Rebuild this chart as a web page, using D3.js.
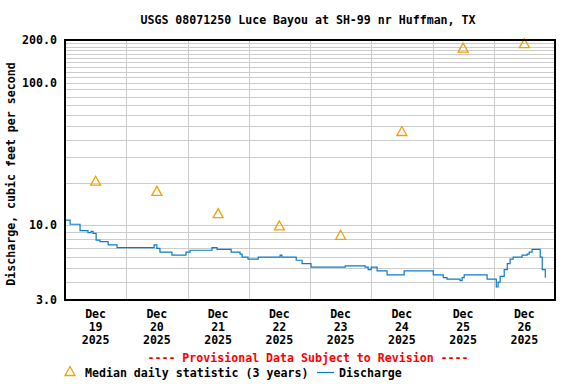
<!DOCTYPE html>
<html>
<head>
<meta charset="utf-8">
<script src="https://cdn.jsdelivr.net/npm/d3@7"></script>
<style>
  body { margin: 0; background: #fff; }
  text { font-family: "DejaVu Sans Mono", monospace; font-weight: bold; font-size: 11.6px; }
</style>
</head>
<body>
<div id="chart"></div>
<script>
// Discharge, hours after Dec 19 2025 00:00 and cubic feet per second
const dischargeHours = [0, 2, 5.9, 9, 10.2, 11, 12.2, 13.7, 16.9, 20.4, 27.4, 34.1, 34.9, 36, 37.2, 39.2, 41.9, 46.3,
  47.4, 49, 52.9, 57.6, 59.6, 63.5, 65.1, 68.6, 69.4, 71.7, 74.1, 75.7, 83.1, 84.3, 85, 89.4, 90.6, 92.9,
  95.6, 96.4, 100, 107.8, 109.8, 117.6, 118.8, 120, 121.5, 122.3, 125.8, 126.2, 132.1, 132.9, 139.1,
  143.9, 144.3, 147, 148.2, 149.7, 154.8, 155.6, 156.4, 164.6, 165.4, 167.8, 169, 169.7, 170.5, 172.1,
  173.3, 174.4, 175.6, 178.4, 179.1, 181.1, 181.9, 183, 185.4, 186.2, 187, 188.2];
const dischargeValues = [10.9, 10.2, 9.2, 8.9, 9.1, 8.8, 7.9, 7.7, 7.3, 7.0, 7.0, 7.0, 7.3, 6.9, 6.5, 6.5, 6.2, 6.2,
  6.5, 6.7, 6.7, 7.0, 6.8, 6.8, 6.5, 6.3, 6.0, 5.8, 5.8, 6.0, 6.0, 6.2, 6.0, 6.0, 5.7, 5.4,
  5.4, 5.1, 5.1, 5.1, 5.2, 5.1, 4.9, 5.1, 5.1, 4.8, 4.8, 4.5, 4.5, 4.8, 4.8,
  4.8, 4.5, 4.5, 4.3, 4.2, 4.1, 4.3, 4.5, 4.5, 4.2, 4.2, 3.7, 4.0, 4.4, 4.9,
  5.4, 5.8, 6.0, 6.0, 6.2, 6.3, 6.5, 6.8, 6.8, 6.0, 4.9, 4.3];

// Median daily statistic, one per day at noon
const medianDays = [19, 20, 21, 22, 23, 24, 25, 26];
const medianValues = [20.6, 17.5, 12.2, 10.0, 8.6, 46, 177, 190];

const yTickValues = [3, 10, 100, 200];
const yGridValues = [3, 4, 5, 6, 7, 8, 9, 10, 20, 30, 40, 50, 60, 70, 80, 90, 100,
  110, 120, 130, 140, 150, 160, 170, 180, 190, 200];
const dayTicks = [19, 20, 21, 22, 23, 24, 25, 26];

const width = 576, height = 384;
const margin = {top: 40, right: 21, bottom: 84, left: 65};
const innerW = width - margin.left - margin.right;
const innerH = height - margin.top - margin.bottom;

const svg = d3.select('#chart').append('svg')
  .attr('width', width)
  .attr('height', height);

const start = new Date(2025, 11, 19);
const end = new Date(2025, 11, 27);

const xScale = d3.scaleTime().domain([start, end]).range([margin.left, margin.left + innerW]);
const yScale = d3.scaleLog().domain([3, 200]).range([margin.top + innerH, margin.top]);

const hourToDate = h => new Date(start.getTime() + h * 3600 * 1000);

// triangle centred on its bounding box, 10 wide and 9 tall
const tri = 'M0,-4.5L5,4.5L-5,4.5Z';

// Title
svg.append('text')
  .attr('x', 308).attr('y', 24)
  .attr('text-anchor', 'middle')
  .text('USGS 08071250 Luce Bayou at SH-99 nr Huffman, TX');

// Grid lines
svg.append('g').selectAll('line')
  .data(yGridValues)
  .join('line')
  .attr('x1', margin.left).attr('x2', margin.left + innerW)
  .attr('y1', d => Math.round(yScale(d)) + 0.5).attr('y2', d => Math.round(yScale(d)) + 0.5)
  .attr('stroke', '#cccccc').attr('stroke-width', 1);

svg.append('g').selectAll('line')
  .data(dayTicks.slice(1))
  .join('line')
  .attr('x1', d => Math.round(xScale(new Date(2025, 11, d))) + 0.5)
  .attr('x2', d => Math.round(xScale(new Date(2025, 11, d))) + 0.5)
  .attr('y1', margin.top).attr('y2', margin.top + innerH)
  .attr('stroke', '#cccccc').attr('stroke-width', 1);

// Y axis labels
svg.append('g').selectAll('text')
  .data(yTickValues)
  .join('text')
  .attr('x', 57)
  .attr('y', d => yScale(d) + 4)
  .attr('text-anchor', 'end')
  .text(d => d.toFixed(1));

svg.append('text')
  .attr('transform', `translate(15, ${margin.top + innerH / 2 + 4}) rotate(-90)`)
  .attr('text-anchor', 'middle')
  .text('Discharge, cubic feet per second');

// X axis labels
const xLabels = svg.append('g').selectAll('text')
  .data(dayTicks)
  .join('text')
  .attr('text-anchor', 'middle');
['Dec', d => d, '2025'].forEach((t, i) => {
  xLabels.append('tspan')
    .attr('x', d => xScale(new Date(2025, 11, d, 12)))
    .attr('y', 318 + i * 13)
    .text(t);
});

// Discharge line
const discharge = dischargeHours.map((h, i) => ({date: hourToDate(h), value: dischargeValues[i]}));
svg.append('path')
  .datum(discharge)
  .attr('fill', 'none')
  .attr('stroke', '#0a7bcc')
  .attr('stroke-width', 1.2)
  .attr('d', d3.line()
    .curve(d3.curveStepAfter)
    .x(d => xScale(d.date))
    .y(d => yScale(d.value)));

// Median triangles
svg.append('g').selectAll('path')
  .data(medianDays.map((d, i) => ({date: new Date(2025, 11, d, 12), value: medianValues[i]})))
  .join('path')
  .attr('transform', d => `translate(${xScale(d.date)},${yScale(d.value)})`)
  .attr('d', tri)
  .attr('fill', 'none')
  .attr('stroke', '#f5a000')
  .attr('stroke-width', 1.3);

// Frame
svg.append('rect')
  .attr('x', margin.left).attr('y', margin.top)
  .attr('width', innerW).attr('height', innerH)
  .attr('fill', 'none')
  .attr('stroke', '#000').attr('stroke-width', 2);

// Provisional notice
svg.append('text')
  .attr('x', 308).attr('y', 362)
  .attr('text-anchor', 'middle')
  .attr('fill', '#ff0000')
  .text('---- Provisional Data Subject to Revision ----');

// Legend
svg.append('path')
  .attr('transform', 'translate(70,371)')
  .attr('d', tri)
  .attr('fill', 'none')
  .attr('stroke', '#f5a000')
  .attr('stroke-width', 1.3);
svg.append('text').attr('x', 85).attr('y', 377).text('Median daily statistic (3 years)');
svg.append('line')
  .attr('x1', 317).attr('x2', 334).attr('y1', 372.5).attr('y2', 372.5)
  .attr('stroke', '#0a7bcc').attr('stroke-width', 1.2);
svg.append('text').attr('x', 339).attr('y', 377).text('Discharge');
</script>
</body>
</html>
